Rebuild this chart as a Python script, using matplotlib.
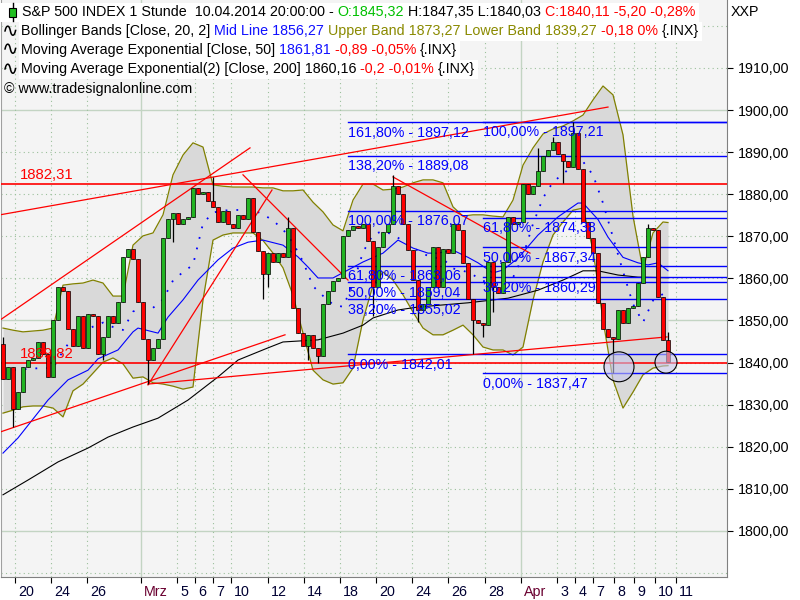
import matplotlib
matplotlib.use("Agg")
import matplotlib.pyplot as plt
from matplotlib.patches import Ellipse, Rectangle
from matplotlib.lines import Line2D
from matplotlib.transforms import blended_transform_factory, ScaledTranslation

W, H = 800, 600
FONT = ["Liberation Sans", "DejaVu Sans"]
FS = 10.3

# hourly closes (2 bars per candle), S&P 500, 19 Feb - 10 Apr 2014
closes = [1836.0, 1839.0, 1829.0, 1833.0, 1839.0, 1840.5, 1841.0, 1845.0, 1842.0, 1836.5,
          1850.0, 1858.0, 1857.0, 1848.0, 1844.0, 1851.0, 1843.5, 1851.5, 1851.0, 1842.0,
          1846.0, 1851.0, 1849.5, 1854.5, 1865.0, 1867.0, 1864.5, 1854.5, 1845.5, 1840.5,
          1843.5, 1845.5, 1869.5, 1874.0, 1875.5, 1873.0, 1874.0, 1874.5, 1881.5, 1880.0,
          1880.5, 1878.5, 1877.0, 1873.5, 1876.0, 1873.0, 1872.0, 1875.0, 1874.0, 1879.0,
          1871.0, 1866.5, 1861.0, 1866.0, 1864.0, 1866.0, 1865.0, 1872.0, 1853.0, 1847.0,
          1844.0, 1846.5, 1843.5, 1841.5, 1854.0, 1857.0, 1859.5, 1860.0, 1870.0, 1871.5,
          1872.5, 1872.0, 1873.0, 1869.0, 1858.0, 1867.5, 1871.0, 1873.0, 1882.0, 1880.0,
          1873.0, 1866.7, 1859.6, 1852.5, 1854.0, 1858.0, 1867.5, 1858.0, 1867.0, 1866.0,
          1873.0, 1871.5, 1863.6, 1855.0, 1850.0, 1849.5, 1849.0, 1864.0, 1858.0, 1856.5,
          1864.0, 1874.5, 1873.0, 1873.5, 1882.5, 1880.0, 1882.0, 1885.5, 1889.0, 1890.5,
          1892.5, 1889.5, 1888.0, 1886.5, 1894.5, 1886.0, 1873.5, 1869.5, 1866.0, 1854.2,
          1848.0, 1846.0, 1845.5, 1852.5, 1849.5, 1853.0, 1853.5, 1859.0, 1865.0, 1872.0,
          1871.5, 1855.6, 1845.4, 1840.11]
first_open = 1844.5
wick_high = {0: 1846.0, 42: 1884.0, 57: 1874.5, 78: 1884.5, 107: 1891.0, 110: 1893.5,
             114: 1897.2, 129: 1873.0, 133: 1847.35}
wick_low = {2: 1824.7, 20: 1840.5, 29: 1835.0, 34: 1868.6, 52: 1855.0, 53: 1858.0,
            61: 1840.5, 63: 1840.0, 74: 1851.0, 83: 1849.6, 94: 1842.0, 96: 1846.0,
            98: 1852.0, 112: 1882.6, 122: 1837.47, 133: 1840.03}

# Bollinger Bands (20, 2), read every second candle
band_idx = [0] + list(range(2, 133, 2)) + [133]
upper = [1848.2, 1847.7, 1847.3, 1847.5, 1847.7, 1848.2, 1858.4, 1858.7, 1858.9, 1859.6,
         1858.9, 1855.8, 1855.8, 1867.9, 1870.1, 1870.8, 1875.1, 1884.6, 1889.3, 1892.2,
         1891.2, 1882.2, 1881.9, 1881.7, 1881.7, 1881.7, 1881.5, 1881.5, 1880.8, 1880.8,
         1881.0, 1878.1, 1875.8, 1872.7, 1871.3, 1878.6, 1882.4, 1882.4, 1881.0, 1881.2,
         1881.7, 1882.7, 1883.4, 1883.4, 1882.7, 1877.0, 1874.8, 1875.1, 1875.1, 1874.8,
         1874.6, 1878.6, 1886.9, 1891.0, 1894.3, 1895.5, 1896.2, 1897.4, 1898.8, 1902.4,
         1905.7, 1903.6, 1894.1, 1874.8, 1862.0, 1870.8, 1873.4, 1873.27]
lower = [1828.0, 1828.7, 1829.5, 1829.7, 1829.7, 1829.2, 1827.1, 1833.3, 1834.9, 1837.5,
         1840.1, 1841.1, 1839.7, 1836.3, 1836.6, 1835.2, 1834.9, 1834.4, 1833.7, 1834.2,
         1854.9, 1869.1, 1870.3, 1870.8, 1870.8, 1870.8, 1869.0, 1866.0, 1862.5, 1856.0,
         1847.0, 1838.2, 1835.9, 1834.9, 1835.2, 1838.7, 1850.1, 1858.4, 1861.5, 1859.6,
         1856.1, 1852.0, 1848.2, 1846.6, 1846.6, 1847.7, 1848.9, 1846.6, 1843.7, 1843.0,
         1843.0, 1841.8, 1843.7, 1854.9, 1863.9, 1870.3, 1873.4, 1876.2, 1876.7, 1866.7,
         1850.1, 1835.9, 1829.2, 1833.0, 1837.1, 1838.7, 1839.2, 1839.27]

# exponential moving averages
ema50_idx = [0, 3, 9, 13, 17, 19, 23, 26, 27, 31, 33, 36, 39, 43, 46, 49, 52, 56, 59, 61,
             63, 66, 69, 72, 76, 79, 82, 85, 87, 90, 93, 95, 98, 100, 103, 107, 111, 115,
             116, 119, 121, 124, 127, 129, 131, 133]
ema50 = [1818.5, 1822.1, 1831.1, 1835.9, 1838.2, 1840.9, 1843.0, 1847.3, 1848.2, 1847.0,
         1850.8, 1854.9, 1859.6, 1864.4, 1867.2, 1868.6, 1869.1, 1867.9, 1865.1, 1862.7,
         1860.1, 1860.1, 1862.0, 1863.9, 1866.0, 1869.1, 1867.2, 1866.0, 1866.0, 1866.7,
         1865.0, 1863.7, 1861.3, 1862.0, 1864.8, 1870.3, 1874.6, 1877.9, 1877.9, 1874.0,
         1869.8, 1865.0, 1863.7, 1863.2, 1863.7, 1861.81]
ema200_idx = [0, 5, 11, 17, 21, 26, 31, 37, 43, 47, 53, 56, 63, 68, 72, 74, 79, 83, 93,
              101, 107, 112, 116, 119, 123, 127, 133]
ema200 = [1808.6, 1812.1, 1816.4, 1819.7, 1822.3, 1824.7, 1826.8, 1831.1, 1836.6, 1840.6,
          1843.5, 1844.9, 1845.4, 1847.0, 1848.9, 1850.6, 1852.5, 1853.2, 1854.2, 1855.3,
          1857.2, 1859.6, 1861.8, 1861.8, 1860.8, 1860.3, 1860.16]

# drawing tools on the chart
red_levels = [1882.31, 1839.82]
red_trendlines = [(-0.6, 1850.1, 49.4, 1891.0), (-0.6, 1875.1, 121.0, 1900.7),
                  (-0.6, 1823.5, 56.4, 1846.6), (29.0, 1834.7, 53.8, 1881.0),
                  (29.0, 1834.9, 132.8, 1846.1), (48.0, 1884.6, 69.0, 1859.6),
                  (78.0, 1884.1, 105.4, 1866.0)]
fib_a_start = 69
fib_a_pct = ["161,80%", "138,20%", "100,00%", "61,80%", "50,00%", "38,20%", "0,00%"]
fib_a_val = [1897.12, 1889.08, 1876.07, 1863.06, 1859.04, 1855.02, 1842.01]
fib_b_start = 96
fib_b_pct = ["100,00%", "61,80%", "50,00%", "38,20%", "0,00%"]
fib_b_val = [1897.21, 1874.38, 1867.34, 1860.29, 1837.47]
circles = [(123.2, 1839.0, 6.0, 7.1), (132.6, 1840.1, 4.4, 5.2)]

day_pos = [2.4, 9.7, 16.9, 27.7, 34.9, 38.5, 42.1, 45.7, 53.1, 60.3, 67.5, 74.7,
           81.9, 89.1, 96.5, 103.7, 110.9, 114.5, 118.1, 122.3, 126.3, 130.5, 134.7]
day_labels = ["20", "24", "26", "Mrz", "5", "6", "7", "10", "12", "14", "18", "20",
              "24", "26", "28", "Apr", "3", "4", "7", "8", "9", "10", "11"]
price_ticks = list(range(1800, 1911, 10))

plt.rcParams["font.family"] = FONT
fig = plt.figure(figsize=(W / 100, H / 100), dpi=100)
fig.patch.set_facecolor("white")
ax = fig.add_axes([1 / W, 23 / H, 726 / W, 577 / H])
ax.set_facecolor("#f4f4f4")
ax.set_xlim(-0.4, 144.8)
ax.set_ylim(1789.07, 1926.13)

# grid
for v in range(1790, 1930, 10):
    if v % 50 == 0:
        ax.axhline(v, color="#c3d4c3", lw=1.0, zorder=0)
    else:
        ax.axhline(v, color="#9cc09c", lw=0.8, ls=(0, (1, 3)), zorder=0)
for p, lab in zip(day_pos, day_labels):
    if lab in ("Mrz", "Apr"):
        ax.axvline(p, color="#c3d4c3", lw=1.0, zorder=0)
    else:
        ax.axvline(p, color="#9cc09c", lw=0.8, ls=(0, (1, 3)), zorder=0)

# bollinger bands
ax.fill_between(band_idx, lower, upper, color="#d9d9d9", lw=0, zorder=1)
ax.plot(band_idx, upper, color="#808000", lw=0.9, zorder=2)
ax.plot(band_idx, lower, color="#808000", lw=0.9, zorder=2)
mid = [(u + l) / 2 for u, l in zip(upper, lower)]
ax.plot(band_idx, mid, color="#0000ff", lw=1.3, ls=(0, (1, 5)), zorder=2)

# moving averages
ax.plot(ema50_idx, ema50, color="#0000ff", lw=0.8, zorder=3)
ax.plot(ema200_idx, ema200, color="black", lw=0.8, zorder=3)

# fibonacci retracements
for start, pcts, vals in [(fib_a_start, fib_a_pct, fib_a_val), (fib_b_start, fib_b_pct, fib_b_val)]:
    for pct, v in zip(pcts, vals):
        ax.plot([start, 144.8], [v, v], color="#0000ff", lw=1.0, zorder=4)
        ax.text(start, v, f"{pct} - {v:.2f}".replace(".", ","), color="#0000ff", fontsize=FS,
                va="top", ha="left", zorder=6,
                transform=ax.transData + ScaledTranslation(0, -2.5 / 72, fig.dpi_scale_trans))

# red tools
for lv in red_levels:
    ax.axhline(lv, color="#ff0000", lw=1.2, zorder=4)
    ax.text(3.4, lv, f"{lv:.2f}".replace(".", ","), color="#ff0000", fontsize=FS + 0.4,
            va="bottom", ha="left", zorder=6,
            transform=ax.transData + ScaledTranslation(0, 1.5 / 72, fig.dpi_scale_trans))
for x0, y0, x1, y1 in red_trendlines:
    ax.plot([x0, x1], [y0, y1], color="#ff0000", lw=0.9, zorder=4)

# candles
opens = [first_open] + closes[:-1]
for i, (o, c) in enumerate(zip(opens, closes)):
    hi = wick_high.get(i, max(o, c))
    lo = wick_low.get(i, min(o, c))
    ax.vlines(i, lo, hi, color="black", lw=0.9, zorder=5)
    col = "#22b422" if c >= o else "#ff0000"
    ax.bar(i, max(abs(c - o), 0.25), bottom=min(o, c), width=0.72, color=col,
           edgecolor="black", lw=0.5, zorder=5)

for cx, cy, w, h in circles:
    ax.add_patch(Ellipse((cx, cy), w, h, facecolor=(0.78, 0.78, 0.93, 0.6),
                         edgecolor="black", lw=0.8, zorder=7))

# axes styling
ax.spines["top"].set_visible(False)
ax.spines["left"].set_color("#a0a0a0")
ax.spines["bottom"].set_color("#808080")
ax.spines["right"].set_color("#808080")
ax.yaxis.tick_right()
ax.set_yticks(price_ticks)
ax.set_yticklabels([f"{v},00" for v in price_ticks], fontsize=FS)
ax.tick_params(axis="y", length=4, width=0.8, pad=4, colors="black")
ax.set_xticks(day_pos)
ax.set_xticklabels([""] * len(day_pos))
ax.tick_params(axis="x", length=4, width=0.8, color="black")
btrans = blended_transform_factory(ax.transData, ax.transAxes) + \
    ScaledTranslation(2 / 72, -5.5 / 72, fig.dpi_scale_trans)
for p, lab in zip(day_pos, day_labels):
    col = "#6a0030" if lab in ("Mrz", "Apr") else "#000033"
    ax.text(p, 0, lab, transform=btrans, color=col, fontsize=FS, ha="left", va="top",
            clip_on=False)

fig.text(731 / W, 1 - 12 / H, "XXP", fontsize=FS, va="center", ha="left")

# header legend
renderer = fig.canvas.get_renderer()


def header_line(x, y, parts, box=True):
    x0 = x
    for s, col in parts:
        t = fig.text(x / W, 1 - y / H, s, color=col, fontsize=FS, va="center", ha="left",
                     zorder=5)
        x += t.get_window_extent(renderer=renderer).width
    if box:
        fig.add_artist(Rectangle((x0 - 2, H - y - 10), x - x0 + 5, 19, transform=None,
                                 facecolor="white", edgecolor="none", zorder=2))


black, blue, red, olive, green = "black", "#1010ff", "#ff0000", "#8a8a00", "#00c000"
header_line(22, 12, [("S&P 500 INDEX 1 Stunde  10.04.2014 20:00:00 - ", black),
                     ("O:1845,32", green), (" H:1847,35 L:1840,03 ", black),
                     ("C:1840,11 -5,20 -0,28%", red)])
header_line(21, 31, [("Bollinger Bands [Close, 20, 2] ", black), ("Mid Line 1856,27 ", blue),
                     ("Upper Band 1873,27 Lower Band 1839,27 ", olive), ("-0,18 0% ", red),
                     ("{.INX}", black)])
header_line(21, 50, [("Moving Average Exponential [Close, 50] ", black), ("1861,81 ", blue),
                     ("-0,89 -0,05% ", red), ("{.INX}", black)])
header_line(21, 69, [("Moving Average Exponential(2) [Close, 200] 1860,16 ", black),
                     ("-0,2 -0,01% ", red), ("{.INX}", black)])
header_line(4, 89, [("© www.tradesignalonline.com", black)], box=False)
for y in (31, 50, 69):
    fig.text(2 / W, 1 - y / H, "∿", fontsize=FS + 4, va="center", ha="left",
             family=["DejaVu Sans"], zorder=5)
fig.add_artist(Rectangle((0, H - 22), 20, 19, transform=None, facecolor="white",
                         edgecolor="none", zorder=2))
fig.add_artist(Line2D([12.5, 12.5], [H - 21, H - 3], transform=None, color="black", lw=1,
                      zorder=4))
fig.add_artist(Rectangle((9, H - 17), 7, 9, transform=None, facecolor="#22c022",
                         edgecolor="black", lw=0.8, zorder=5))

fig.savefig("out.png", dpi=100)
